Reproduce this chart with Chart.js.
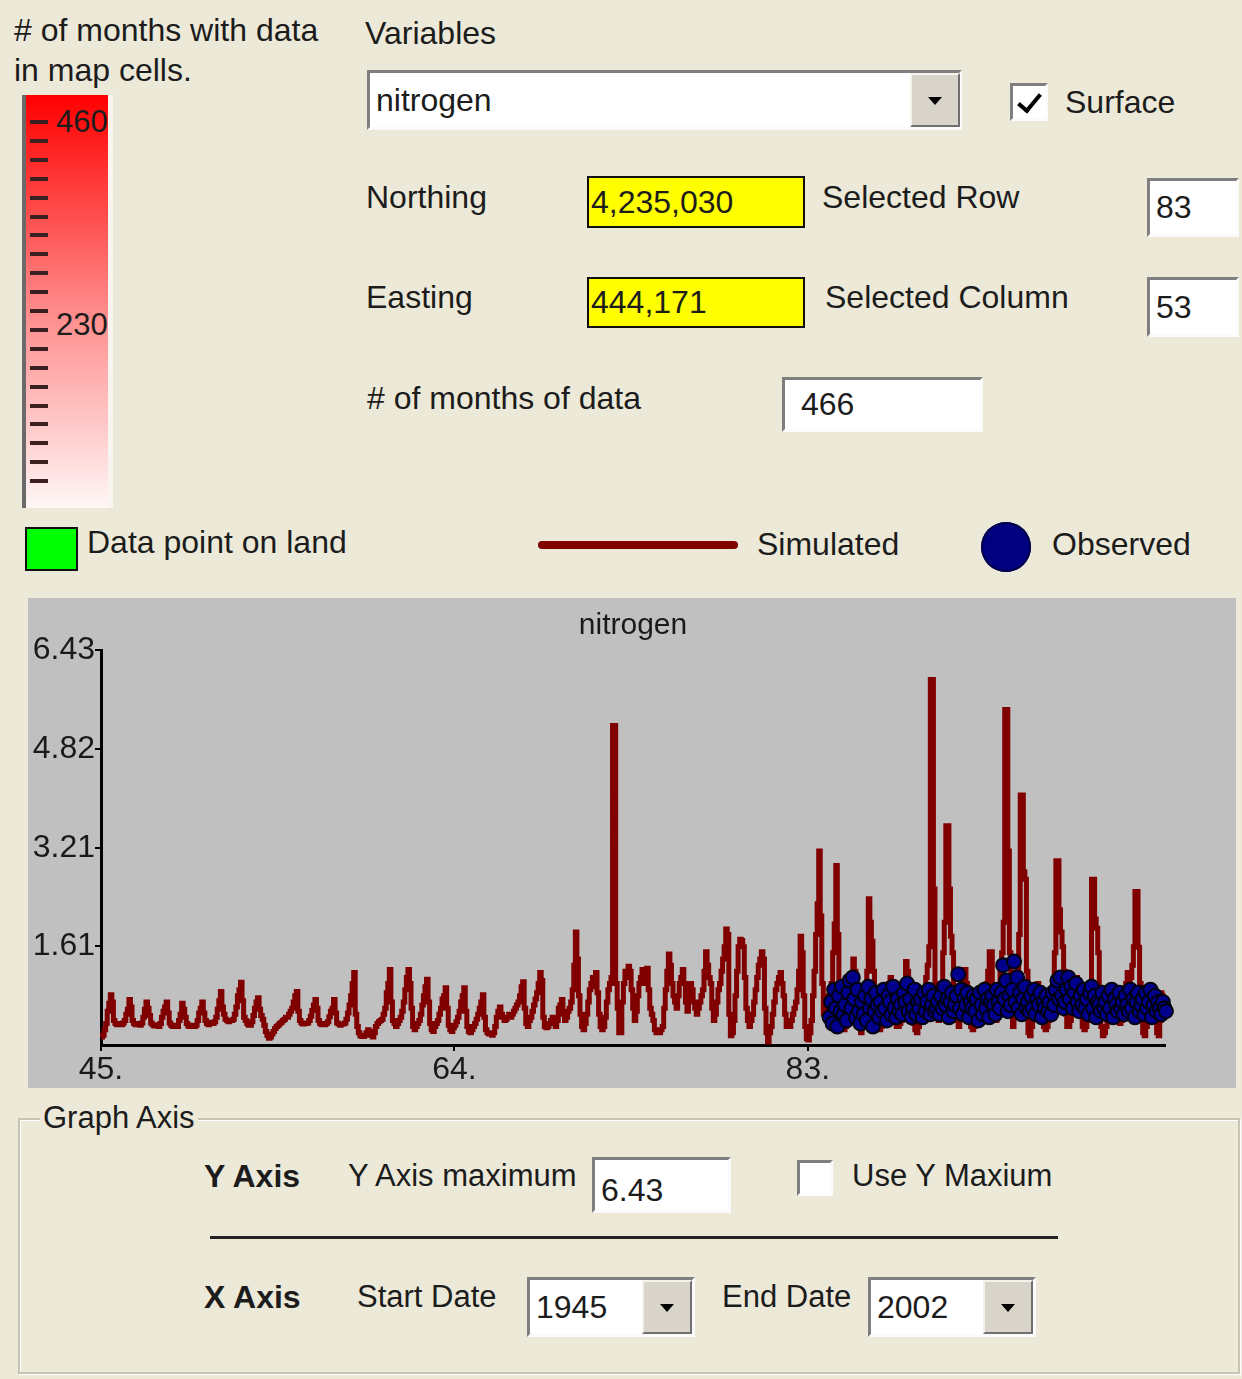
<!DOCTYPE html>
<html>
<head>
<meta charset="utf-8">
<title>nitrogen</title>
<script src="https://cdn.jsdelivr.net/npm/chart.js@4.4.1/dist/chart.umd.min.js"></script>
<style>
    body { margin: 0; background: #ECE9D8; font-family: 'Liberation Sans', Arial, sans-serif; color: #1c1c1c; }
    #page { position: relative; width: 1242px; height: 1379px; overflow: hidden; }
    .t { position: absolute; font-size: 32px; line-height: 32px; white-space: nowrap; }
    .b { font-weight: bold; }
    .box { position: absolute; box-sizing: border-box; background: #fff; border: 3px solid; border-color: #7f7f7f #fbfbfb #fbfbfb #7f7f7f; font-size: 32px; padding-left: 6px; display: flex; align-items: center; white-space: nowrap; }
    .yellow { background: #ffff00; border: 2px solid #111; padding-left: 2px; }
    .btn { position: absolute; box-sizing: border-box; background: #D8D4CA; border: 2px solid; border-color: #f4f2ea #6f6f6f #6f6f6f #f4f2ea; }
    .btn::after { content: ''; position: absolute; left: 50%; top: 50%; margin-left: -7px; margin-top: -3px; border-left: 7px solid transparent; border-right: 7px solid transparent; border-top: 8px solid #000; }
    .chk { position: absolute; box-sizing: border-box; background: #fff; border: 3px solid; border-color: #7f7f7f #fbfbfb #fbfbfb #7f7f7f; }
    .tick { position: absolute; left: 10px; top: 3px; width: 9px; height: 19px; border: solid #000; border-width: 0 4px 4px 0; transform: rotate(40deg); }
    #cbar { position: absolute; left: 22px; top: 95px; width: 91px; height: 413px; box-sizing: border-box; background: linear-gradient(to bottom, #ff0000 0%, #ff8a8a 52%, #fff6f6 100%); border-left: 4px solid #6a6a6a; border-right: 5px solid #f8f4f0; }
    #cticks { position: absolute; left: 30px; top: 120px; width: 18px; height: 370px; background: repeating-linear-gradient(to bottom, #3a2020 0px, #3a2020 4px, transparent 4px, transparent 18.9px); }
    #plotbox { position: absolute; left: 28px; top: 598px; width: 1208px; height: 490px; background: #C0C0C0; }
    #titulo { position: absolute; left: 0; width: 1266px; top: 608px; text-align: center; font-size: 30px; line-height: 32px; color: #1a1a1a; }
    #group { position: absolute; left: 18px; top: 1118px; width: 1222px; height: 256px; box-sizing: border-box; border: 2px solid #c8c4b4; box-shadow: inset 1px 1px 0 #fff, 1px 1px 0 #fff; }
</style>
</head>
<body>
<div id="page">
    <div class="t" style="left:14px;top:14px">&#35; of months with data</div>
    <div class="t" style="left:14px;top:54px">in map cells.</div>
    <div id="cbar"></div>
    <div id="cticks"></div>
    <div class="t" style="left:56px;top:106px;font-size:31px">460</div>
    <div class="t" style="left:56px;top:309px;font-size:31px">230</div>

    <div style="position:absolute;left:25px;top:527px;width:53px;height:44px;box-sizing:border-box;background:#00ff00;border:2px solid #111"></div>
    <div class="t" style="left:87px;top:526px">Data point on land</div>

    <div class="t" style="left:365px;top:17px">Variables</div>
    <div class="box" style="left:367px;top:70px;width:595px;height:60px">nitrogen</div>
    <div class="btn" style="left:910px;top:73px;width:50px;height:54px"></div>
    <div class="chk" style="left:1010px;top:83px;width:38px;height:38px"><div class="tick"></div></div>
    <div class="t" style="left:1065px;top:86px">Surface</div>

    <div class="t" style="left:366px;top:181px">Northing</div>
    <div class="box yellow" style="left:587px;top:176px;width:218px;height:52px">4,235,030</div>
    <div class="t" style="left:822px;top:181px">Selected Row</div>
    <div class="box" style="left:1147px;top:178px;width:92px;height:59px">83</div>

    <div class="t" style="left:366px;top:281px">Easting</div>
    <div class="box yellow" style="left:587px;top:277px;width:218px;height:51px">444,171</div>
    <div class="t" style="left:825px;top:281px">Selected Column</div>
    <div class="box" style="left:1147px;top:277px;width:92px;height:60px">53</div>

    <div class="t" style="left:367px;top:382px">&#35; of months of data</div>
    <div class="box" style="left:782px;top:377px;width:201px;height:55px;padding-left:16px">466</div>

    <div style="position:absolute;left:538px;top:541px;width:200px;height:8px;border-radius:4px;background:#800000"></div>
    <div class="t" style="left:757px;top:528px">Simulated</div>
    <div style="position:absolute;left:981px;top:522px;width:50px;height:50px;border-radius:50%;background:#000080;box-shadow:inset 0 0 0 2px #00004a"></div>
    <div class="t" style="left:1052px;top:528px">Observed</div>

    <div id="plotbox"><canvas id="chartNitrogen" width="1208" height="490"></canvas></div>
    <div id="titulo">nitrogen</div>

    <div id="group"></div>
    <div class="t" style="left:40px;top:1102px;background:#ECE9D8;padding:0 3px;font-size:31px">Graph Axis</div>
    <div class="t b" style="left:204px;top:1160px">Y Axis</div>
    <div class="t" style="left:348px;top:1160px;font-size:31px">Y Axis maximum</div>
    <div class="box" style="left:592px;top:1157px;width:139px;height:56px;padding-top:10px">6.43</div>
    <div class="chk" style="left:797px;top:1160px;width:36px;height:36px"></div>
    <div class="t" style="left:852px;top:1160px;font-size:31px">Use Y Maxium</div>
    <div style="position:absolute;left:210px;top:1236px;width:848px;height:3px;background:#222"></div>
    <div class="t b" style="left:204px;top:1281px">X Axis</div>
    <div class="t" style="left:357px;top:1281px;font-size:31px">Start Date</div>
    <div class="box" style="left:527px;top:1277px;width:168px;height:60px">1945</div>
    <div class="btn" style="left:642px;top:1280px;width:50px;height:54px"></div>
    <div class="t" style="left:722px;top:1281px;font-size:31px">End Date</div>
    <div class="box" style="left:868px;top:1277px;width:168px;height:60px">2002</div>
    <div class="btn" style="left:983px;top:1280px;width:50px;height:54px"></div>
</div>

<script>
// Datos: un renglón por año, un valor por mes
const anioInicio = 1945;
const simulado = [
    [0.13, 0.16, 0.25, 0.35, 0.55, 0.68, 0.82, 0.7, 0.4, 0.35, 0.33, 0.35],   // 1945
    [0.35, 0.33, 0.36, 0.4, 0.5, 0.58, 0.74, 0.62, 0.4, 0.35, 0.33, 0.35],
    [0.33, 0.32, 0.36, 0.45, 0.58, 0.7, 0.6, 0.48, 0.36, 0.33, 0.31, 0.33],
    [0.32, 0.3, 0.35, 0.45, 0.55, 0.62, 0.7, 0.52, 0.36, 0.32, 0.3, 0.32],
    [0.31, 0.3, 0.4, 0.5, 0.68, 0.58, 0.45, 0.35, 0.31, 0.3, 0.3, 0.32],
    [0.3, 0.32, 0.4, 0.52, 0.6, 0.7, 0.52, 0.4, 0.35, 0.33, 0.35, 0.37],   // 1950
    [0.35, 0.38, 0.45, 0.58, 0.72, 0.87, 0.62, 0.5, 0.42, 0.4, 0.38, 0.4],
    [0.4, 0.42, 0.5, 0.62, 0.8, 0.9, 1.02, 0.72, 0.45, 0.4, 0.35, 0.32],
    [0.32, 0.38, 0.48, 0.6, 0.7, 0.77, 0.58, 0.48, 0.42, 0.32, 0.22, 0.16],
    [0.11, 0.13, 0.18, 0.22, 0.27, 0.3, 0.32, 0.35, 0.37, 0.4, 0.42, 0.45],
    [0.45, 0.5, 0.55, 0.6, 0.7, 0.8, 0.87, 0.55, 0.4, 0.36, 0.34, 0.35],   // 1955
    [0.35, 0.36, 0.4, 0.47, 0.56, 0.65, 0.74, 0.6, 0.4, 0.35, 0.33, 0.35],
    [0.33, 0.35, 0.38, 0.46, 0.55, 0.6, 0.74, 0.52, 0.36, 0.34, 0.32, 0.34],
    [0.34, 0.36, 0.42, 0.52, 0.65, 0.8, 1.0, 1.18, 0.5, 0.3, 0.2, 0.15],
    [0.14, 0.14, 0.16, 0.2, 0.25, 0.22, 0.16, 0.13, 0.2, 0.3, 0.35, 0.38],
    [0.4, 0.42, 0.5, 0.6, 0.85, 1.0, 1.23, 0.7, 0.4, 0.35, 0.3, 0.35],   // 1960
    [0.4, 0.45, 0.55, 0.7, 0.9, 1.1, 1.23, 1.0, 0.6, 0.3, 0.25, 0.3],
    [0.35, 0.4, 0.5, 0.65, 0.8, 0.95, 1.07, 0.7, 0.35, 0.25, 0.22, 0.3],
    [0.35, 0.4, 0.5, 0.6, 0.75, 0.8, 0.93, 0.6, 0.32, 0.25, 0.22, 0.28],
    [0.32, 0.38, 0.45, 0.55, 0.7, 0.8, 0.93, 0.55, 0.3, 0.22, 0.2, 0.25],
    [0.3, 0.35, 0.42, 0.5, 0.6, 0.7, 0.82, 0.45, 0.25, 0.2, 0.18, 0.2],   // 1965
    [0.16, 0.2, 0.3, 0.45, 0.55, 0.62, 0.5, 0.45, 0.4, 0.42, 0.45, 0.5],
    [0.45, 0.5, 0.55, 0.6, 0.65, 0.7, 0.8, 0.95, 1.03, 0.6, 0.35, 0.3],
    [0.4, 0.45, 0.55, 0.65, 0.75, 0.85, 1.0, 1.18, 1.05, 0.45, 0.3, 0.28],
    [0.3, 0.35, 0.4, 0.45, 0.35, 0.3, 0.4, 0.6, 0.65, 0.74, 0.5, 0.4],
    [0.45, 0.55, 0.6, 0.7, 0.9, 1.3, 1.84, 1.4, 0.8, 0.5, 0.3, 0.25],   // 1970
    [0.35, 0.5, 0.7, 0.9, 1.0, 1.1, 0.95, 1.18, 0.85, 0.5, 0.3, 0.25],
    [0.3, 0.45, 0.7, 0.9, 1.0, 1.1, 5.2, 5.2, 1.0, 0.6, 0.2, 0.2],
    [0.7, 1.0, 1.2, 1.1, 1.28, 1.2, 0.9, 0.6, 0.4, 0.55, 0.8, 1.0],
    [1.1, 1.23, 1.2, 1.0, 1.25, 0.9, 0.6, 0.5, 0.4, 0.25, 0.2, 0.2],
    [0.2, 0.25, 0.3, 0.6, 0.9, 1.2, 1.48, 1.3, 1.0, 0.8, 0.7, 0.6],   // 1975
    [0.8, 1.0, 1.1, 1.23, 1.0, 0.7, 0.55, 0.8, 1.0, 0.9, 0.7, 0.6],
    [0.5, 0.6, 0.7, 0.8, 0.9, 1.2, 1.52, 1.3, 1.1, 1.0, 0.6, 0.4],
    [0.5, 0.7, 0.9, 1.0, 1.2, 1.4, 1.6, 1.89, 1.8, 0.5, 0.15, 0.2],
    [0.4, 0.8, 1.2, 1.6, 1.72, 1.7, 1.6, 1.1, 0.6, 0.4, 0.3, 0.4],
    [0.5, 0.7, 0.9, 1.1, 1.3, 1.4, 1.52, 1.4, 0.6, 0.2, 0.05, 0.2],   // 1980
    [0.3, 0.5, 0.7, 0.9, 1.0, 1.1, 1.18, 1.0, 0.8, 0.5, 0.3, 0.3],
    [0.3, 0.4, 0.5, 0.6, 0.7, 0.9, 1.2, 1.77, 1.5, 0.8, 0.3, 0.1],
    [0.08, 0.2, 0.4, 0.8, 1.2, 1.8, 2.3, 3.16, 2.1, 1.0, 0.5, 0.6],
    [0.8, 0.6, 0.4, 1.0, 1.5, 1.97, 2.92, 1.8, 1.0, 0.5, 0.3, 0.25],
    [0.3, 0.4, 0.5, 0.8, 1.1, 1.4, 1.2, 0.8, 0.5, 0.3, 0.2, 0.3],   // 1985
    [0.4, 0.8, 1.2, 2.38, 2.0, 1.69, 1.2, 0.8, 0.5, 0.35, 0.25, 0.3],
    [0.35, 0.45, 0.6, 0.8, 1.0, 1.1, 0.9, 0.6, 0.4, 0.3, 0.3, 0.35],
    [0.4, 0.5, 0.7, 1.36, 1.2, 0.9, 0.7, 0.5, 0.35, 0.25, 0.2, 0.3],
    [0.4, 0.5, 0.7, 0.9, 1.1, 1.3, 1.6, 5.95, 5.95, 2.54, 1.0, 0.5],
    [0.4, 0.6, 0.9, 1.5, 2.0, 3.57, 3.57, 2.54, 1.77, 1.5, 0.8, 0.5],   // 1990
    [0.4, 0.3, 0.5, 0.8, 1.0, 1.23, 1.0, 0.8, 0.5, 0.3, 0.25, 0.3],
    [0.35, 0.4, 0.5, 0.6, 0.7, 0.8, 0.9, 1.0, 1.2, 1.52, 1.52, 0.8],
    [0.5, 0.4, 0.5, 0.8, 1.2, 1.5, 2.0, 5.46, 5.46, 3.16, 1.5, 0.6],
    [0.3, 0.5, 0.8, 1.2, 1.8, 4.07, 4.07, 2.82, 2.7, 1.2, 0.2, 0.15],
    [0.3, 0.5, 0.7, 0.9, 1.0, 0.8, 0.6, 0.45, 0.3, 0.25, 0.3, 0.4],   // 1995
    [0.5, 0.7, 1.0, 1.5, 3.0, 3.0, 2.2, 1.84, 1.6, 1.2, 0.5, 0.3],
    [0.3, 0.4, 0.6, 0.8, 1.0, 1.1, 0.9, 0.7, 0.5, 0.3, 0.25, 0.3],
    [0.4, 0.7, 1.0, 2.7, 2.7, 2.05, 1.9, 1.5, 0.8, 0.3, 0.15, 0.2],
    [0.3, 0.45, 0.6, 0.8, 0.9, 0.75, 0.6, 0.5, 0.4, 0.35, 0.4, 0.6],
    [0.8, 1.0, 1.18, 1.0, 1.1, 1.3, 1.6, 2.5, 2.5, 1.59, 1.0, 0.5],   // 2000
    [0.2, 0.15, 0.3, 0.5, 0.7, 0.9, 0.8, 0.6, 0.4, 0.2, 0.15, 0.4],
    [0.7, 0.85, 0.85]
];

const anioObservado = 1984;
const observado = [
    [null, null, 0.45, 0.7, 0.35, 0.9, 0.6, 0.3, 0.8, 0.55, 0.95, 0.5],   // 1984
    [0.65, 0.4, 0.85, 1.05, 0.6, 1.1, 0.75, 0.45, 0.9, 0.55, 0.35, 0.7],
    [0.5, 0.8, 0.4, 0.95, 0.6, 0.75, 0.3, 0.55, 0.85, 0.65, 0.45, 0.7],
    [0.55, 0.9, 0.6, 0.4, 0.8, 0.7, 0.5, 0.95, 0.6, 0.45, 0.75, 0.55],
    [0.65, 0.5, 0.85, 0.7, 1.0, 0.55, 0.75, 0.45, 0.6, 0.9, 0.5, 0.7],
    [0.6, 0.75, 0.45, 0.85, 0.55, 0.7, 0.9, 0.5, 0.65, 0.8, 0.55, 0.6],   // 1989
    [0.7, 0.5, 0.8, 0.6, 0.95, 0.65, 0.75, 0.45, 0.7, 0.85, 0.55, 0.65],
    [0.8, 1.15, 0.6, 0.9, 0.5, 0.75, 0.65, 0.85, 0.45, 0.7, 0.6, 0.8],
    [0.55, 0.75, 0.4, 0.85, 0.65, 0.5, 0.9, 0.6, 0.75, 0.45, 0.7, 0.8],
    [0.65, 0.5, 0.9, 0.7, 0.6, 0.85, 1.3, 0.75, 1.05, 0.55, 0.8, 0.65],
    [0.9, 1.36, 0.7, 1.1, 0.6, 0.85, 0.5, 0.75, 0.95, 0.6, 0.7, 0.55],   // 1994
    [0.8, 0.6, 0.9, 0.5, 0.75, 0.65, 0.85, 0.45, 0.7, 0.6, 0.8, 0.55],
    [0.7, 0.5, 0.85, 0.65, 0.9, 1.05, 0.75, 1.1, 0.8, 0.6, 0.7, 0.9],
    [1.1, 0.75, 0.95, 0.6, 0.85, 1.0, 0.7, 0.55, 0.8, 0.65, 0.9, 0.6],
    [0.75, 0.5, 0.85, 0.95, 0.6, 0.8, 0.45, 0.7, 0.65, 0.55, 0.85, 0.6],
    [0.7, 0.5, 0.8, 0.6, 0.9, 0.45, 0.75, 0.65, 0.55, 0.85, 0.6, 0.7],   // 1999
    [0.5, 0.8, 0.65, 0.55, 0.9, 0.6, 0.75, 0.45, 0.7, 0.85, 0.55, 0.65],
    [0.75, 0.5, 0.85, 0.6, 0.7, 0.9, 0.45, 0.65, 0.8, 0.55, 0.7, 0.6],
    [0.5, 0.7, 0.6, 0.55]
];

const xTicks = [1945, 1964, 1983];
const yTicks = [1.61, 3.21, 4.82, 6.43];
const yMax = 6.43;
const xMax = 2002.2;

function aPuntos(filas, anio) {
    const puntos = [];
    filas.forEach((fila, i) => {
        fila.forEach((valor, mes) => {
            if (valor !== null) puntos.push({ x: anio + i + mes / 12, y: valor });
        });
    });
    return puntos;
}

const fuente = { family: "'Liberation Sans', Arial, sans-serif", size: 32 };
const negro = '#1a1a1a';

new Chart(document.getElementById('chartNitrogen'), {
    type: 'line',
    data: {
        datasets: [
            {
                label: 'Observed',
                data: aPuntos(observado, anioObservado),
                showLine: false,
                pointRadius: 7,
                pointBackgroundColor: '#00008c',
                pointBorderColor: '#000010',
                pointBorderWidth: 2,
                order: 0,
                clip: false
            },
            {
                label: 'Simulated',
                data: aPuntos(simulado, anioInicio),
                borderColor: '#800000',
                borderWidth: 5,
                pointRadius: 0,
                stepped: true,
                order: 1,
                clip: false
            }
        ]
    },
    options: {
        responsive: false,
        animation: false,
        layout: { padding: { left: 0, right: 71, top: 52, bottom: 0 } },
        plugins: {
            legend: { display: false },
            tooltip: { enabled: false }
        },
        scales: {
            x: {
                type: 'linear',
                min: anioInicio,
                max: xMax,
                afterBuildTicks: (escala) => { escala.ticks = xTicks.map(v => ({ value: v })); },
                afterFit: (escala) => { escala.height = 43; },
                ticks: {
                    callback: (v) => String(v).slice(2) + '.',
                    color: negro,
                    font: fuente,
                    padding: 0,
                    maxRotation: 0,
                    autoSkip: false
                },
                grid: { drawOnChartArea: false, color: '#000', lineWidth: 2, tickLength: 6 },
                border: { color: '#000', width: 3 }
            },
            y: {
                min: 0,
                max: yMax,
                afterBuildTicks: (escala) => { escala.ticks = yTicks.map(v => ({ value: v })); },
                afterFit: (escala) => { escala.width = 73; },
                ticks: {
                    callback: (v) => v.toFixed(2),
                    color: negro,
                    font: fuente,
                    padding: 0
                },
                grid: { drawOnChartArea: false, color: '#000', lineWidth: 2, tickLength: 6 },
                border: { color: '#000', width: 3 }
            }
        }
    }
});
</script>
</body>
</html>
